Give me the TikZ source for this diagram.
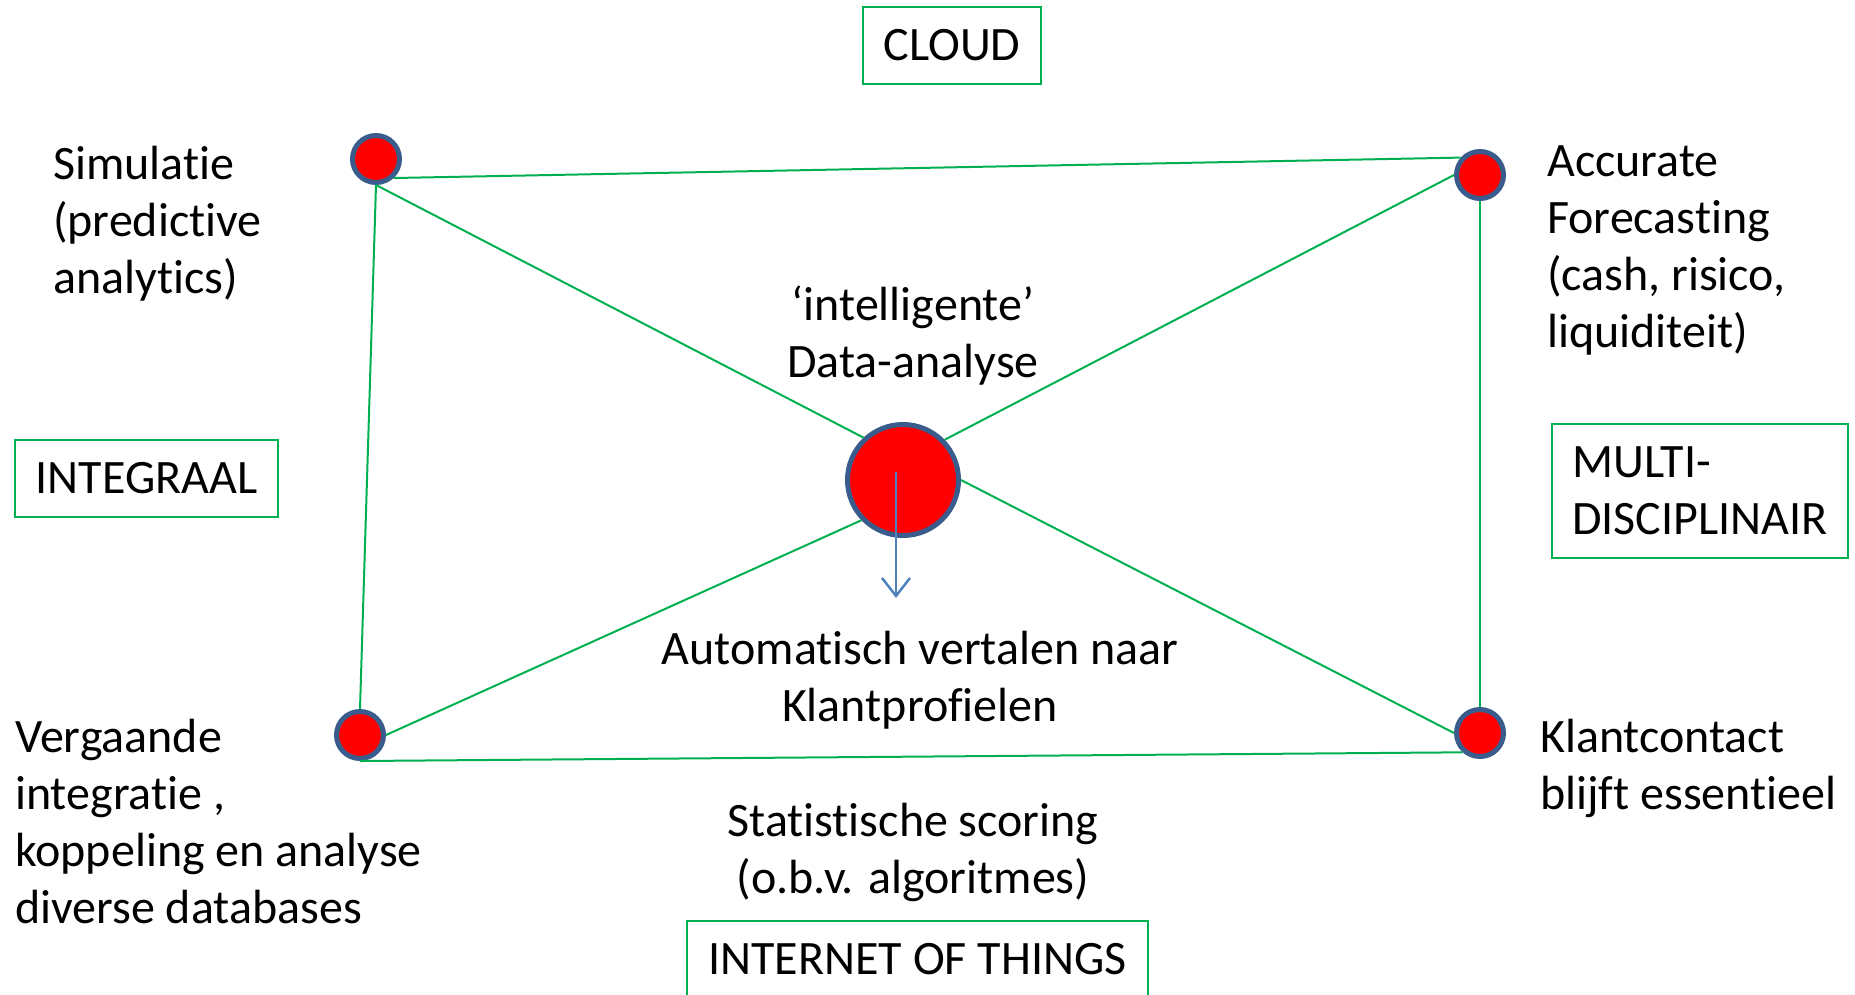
\documentclass[tikz,border=0pt]{standalone}
\usepackage{fontspec}
\setmainfont{Carlito}[Ligatures={NoCommon}]
\usetikzlibrary{arrows.meta}
\definecolor{lgreen}{HTML}{00B050}
\definecolor{rimblue}{HTML}{3A5C8C}
\definecolor{arrblue}{HTML}{4F81BD}
\begin{document}
\begin{tikzpicture}[x=1pt,y=-1pt,
  every node/.style={font=\fontsize{48}{57}\selectfont},
  dot/.style={circle,fill=red,draw=rimblue,line width=5pt,minimum size=47pt,inner sep=0pt},
  bigdot/.style={circle,fill=red,draw=rimblue,line width=5pt,minimum size=111pt,inner sep=0pt},
  link/.style={draw=lgreen,line width=2pt},
  tagbox/.style={draw=lgreen,line width=2pt,inner sep=0pt},
  lbl/.style={inner sep=0pt},
  arrowc/.style={draw=arrblue,line width=2.5pt,-{Straight Barb[length=18pt,width=28pt,line width=2.5pt]}}]
\useasboundingbox (0,0) rectangle (1855,994);
\clip (0,0) rectangle (1855,994);
% dots
\node[dot] (tl) at (376,159) {};
\node[dot] (tr) at (1480,175) {};
\node[dot] (bl) at (360,735) {};
\node[dot] (br) at (1480,733) {};
\node[bigdot] (c) at (903,480) {};
% links
\draw[link] (tl.-47) -- (tr.138);
\draw[link] (tl.south) -- (bl.north);
\draw[link] (tr.south) -- (br.north);
\draw[link] (bl.south) -- (br.228);
\draw[link] (tl.south) -- (c.133);
\draw[link] (tr.west) -- (c.44);
\draw[link] (bl.east) -- (c.-136);
\draw[link] (br.west) -- (c.east);
% arrow
\coordinate (aend) at (896,598);
\draw[arrowc] ([xshift=-7pt,yshift=8pt]c.center) -- (aend);
% boxes
\node[tagbox,minimum width=178pt,minimum height=77pt] (cloud) at (952,45.5) {CLOUD};
\node[tagbox,minimum width=263pt,minimum height=77pt] (integ) at (146.5,478.5) {INTEGRAAL};
\node[tagbox,minimum width=296pt,minimum height=134pt,align=left] (multi) at (1700,491) {MULTI-\\DISCIPLINAIR};
\node[tagbox,anchor=north,minimum width=461pt,inner ysep=22pt] (iot) at (917.5,920) {INTERNET OF THINGS};
% labels
\node[lbl,anchor=north west,align=left] (sim) at (53,146) {Simulatie\\(predictive\\analytics)};
\node[lbl,anchor=north west,align=left] (acc) at (1547,145) {Accurate\\Forecasting\\(cash, risico,\\liquiditeit)};
\node[lbl,anchor=north,align=center] (intel) at (913,286) {‘intelligente’\\Data-analyse};
\node[lbl,anchor=north,align=center] (auto) at (920,631) {Automatisch vertalen naar\\Klantprofielen};
\node[lbl,anchor=north west,align=left] (verg) at (15,719) {Vergaande\\integratie ,\\koppeling en analyse\\diverse databases};
\node[lbl,anchor=north west,align=left] (klant) at (1540,719) {Klantcontact\\blijft essentieel};
\node[lbl,anchor=north,align=center] (stat) at (913,803) {Statistische scoring\\(o.b.v. algoritmes)};
\end{tikzpicture}
\end{document}
